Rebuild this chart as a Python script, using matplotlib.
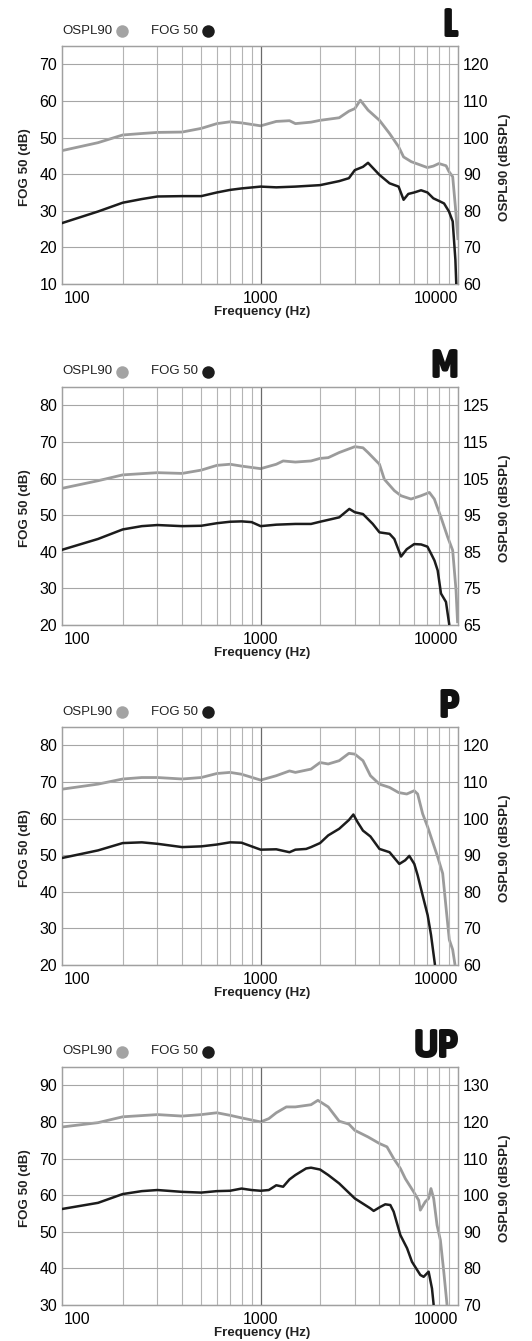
import os

import matplotlib

matplotlib.use("Agg")
import matplotlib.pyplot as plt
from matplotlib import font_manager
from matplotlib.font_manager import FontProperties
from matplotlib.ticker import FixedLocator, NullFormatter

plt.rcParams["font.family"] = ["Liberation Sans", "DejaVu Sans"]

W, H = 532, 1341

# ---- data (frequency in Hz, FOG 50 in dB, OSPL90 in dBSPL) ----
L_ospl_f = [98, 150, 200, 250, 300, 400, 500, 600, 700, 800, 1000, 1200, 1400, 1500,
            1800, 2000, 2500, 2800, 3000, 3200, 3500, 4000, 4500, 5000, 5300, 5800,
            7000, 7500, 8000, 8700, 9000, 9400, 9700, 10000]
L_ospl = [96.4, 98.6, 100.7, 101.1, 101.4, 101.5, 102.5, 103.8, 104.3, 104.0, 103.2,
          104.4, 104.6, 103.8, 104.2, 104.7, 105.4, 107.2, 107.9, 110.2, 107.5, 104.7,
          101.1, 97.5, 94.7, 93.4, 91.8, 92.2, 92.9, 92.3, 90.7, 89.3, 81.1, 72.0]
L_fog_f = [98, 150, 200, 250, 300, 400, 500, 600, 700, 800, 1000, 1200, 1500, 2000,
           2500, 2800, 3000, 3300, 3500, 4000, 4500, 5000, 5300, 5600, 6000, 6500,
           7000, 7500, 8000, 8500, 9000, 9400, 9700, 9800]
L_fog = [26.6, 29.8, 32.2, 33.2, 33.9, 34.0, 34.0, 35.0, 35.7, 36.1, 36.6, 36.4, 36.6,
         37.0, 38.1, 38.9, 41.1, 42.0, 43.1, 39.8, 37.5, 36.6, 33.0, 34.6, 35.0, 35.6,
         35.0, 33.4, 32.7, 32.0, 29.8, 27.1, 16.6, 10.0]

M_ospl_f = [98, 150, 200, 300, 400, 500, 600, 700, 800, 1000, 1200, 1300, 1500, 1800,
            2000, 2200, 2500, 3000, 3300, 3500, 4000, 4233, 4757, 5144, 5780, 6494,
            7160, 7586, 8199, 8866, 9397, 9772, 9953]
M_ospl = [102.3, 104.4, 106.0, 106.6, 106.4, 107.3, 108.6, 108.9, 108.4, 107.7, 108.9,
          109.8, 109.5, 109.8, 110.5, 110.7, 112.1, 113.7, 113.4, 112.1, 108.9, 104.8,
          101.7, 100.3, 99.4, 100.3, 101.2, 99.4, 94.4, 89.0, 85.4, 74.5, 65.5]
M_fog_f = [98, 150, 200, 250, 300, 400, 500, 600, 700, 800, 900, 1000, 1200, 1500,
           1800, 2000, 2500, 2814, 3000, 3300, 3700, 4000, 4500, 4757, 5144, 5500,
           6000, 6500, 7000, 7300, 7600, 7889, 8199, 8690, 9036]
M_fog = [40.5, 43.5, 46.1, 47.0, 47.3, 47.0, 47.1, 47.8, 48.2, 48.3, 48.1, 47.0, 47.4,
         47.6, 47.6, 48.2, 49.4, 51.7, 50.8, 50.3, 47.6, 45.3, 44.9, 43.5, 38.7, 40.7,
         42.1, 42.0, 41.4, 39.5, 37.6, 34.9, 28.6, 26.3, 20.0]

P_ospl_f = [98, 150, 200, 250, 300, 400, 500, 600, 700, 800, 1000, 1200, 1400, 1500,
            1800, 2000, 2200, 2500, 2800, 3000, 3300, 3600, 4000, 4500, 5000, 5500,
            6000, 6246, 6620, 7019, 7442, 7889, 8364, 8690, 9036, 9397, 9660]
P_ospl = [108.0, 109.4, 110.8, 111.2, 111.2, 110.8, 111.2, 112.3, 112.6, 112.1, 110.5,
          111.7, 113.0, 112.6, 113.5, 115.3, 114.9, 115.8, 117.8, 117.6, 115.8, 111.7,
          109.4, 108.5, 107.1, 106.7, 107.6, 106.7, 101.3, 97.7, 93.6, 89.5, 85.0, 75.9,
          66.9, 64.2, 60.0]
P_fog_f = [98, 150, 200, 250, 300, 400, 500, 600, 700, 800, 1000, 1200, 1400, 1500,
           1700, 1800, 2000, 2200, 2500, 2800, 2950, 3100, 3300, 3600, 4000, 4500, 5044,
           5400, 5666, 6006, 6246, 6620, 7019, 7300, 7645]
P_fog = [49.2, 51.3, 53.3, 53.5, 53.1, 52.2, 52.4, 52.9, 53.5, 53.4, 51.5, 51.6, 50.8,
         51.5, 51.7, 52.2, 53.3, 55.4, 57.2, 59.6, 61.1, 59.0, 56.7, 55.1, 51.7, 50.8,
         47.6, 48.6, 49.8, 47.6, 44.5, 39.0, 33.6, 28.2, 20.0]

UP_ospl_f = [98, 150, 200, 300, 400, 500, 600, 700, 800, 1000, 1100, 1200, 1350, 1500,
             1800, 1950, 2200, 2500, 2800, 3000, 3500, 4000, 4365, 4720, 5104, 5410,
             5960, 6320, 6443, 6827, 7098, 7295, 7529, 7831, 8144, 8470, 8800]
UP_ospl = [118.6, 119.8, 121.4, 122.0, 121.6, 122.0, 122.5, 121.8, 121.1, 120.0, 120.9,
           122.5, 124.1, 124.1, 124.7, 125.9, 124.1, 120.2, 119.4, 117.7, 115.9, 114.1,
           113.2, 110.0, 107.3, 104.5, 100.9, 98.6, 95.9, 98.2, 99.1, 101.8, 99.1, 91.8,
           87.7, 79.1, 70.0]
UP_fog_f = [98, 150, 200, 250, 300, 400, 500, 600, 700, 800, 900, 1000, 1100, 1200,
            1300, 1400, 1500, 1700, 1800, 2000, 2200, 2500, 3000, 3594, 3738, 4040,
            4281, 4540, 4720, 5104, 5520, 5845, 6443, 6698, 7098, 7382, 7529]
UP_fog = [56.2, 57.9, 60.3, 61.1, 61.4, 60.9, 60.7, 61.1, 61.2, 61.8, 61.4, 61.2, 61.4,
          62.7, 62.3, 64.3, 65.5, 67.3, 67.5, 67.0, 65.5, 63.2, 59.1, 56.4, 55.7, 56.8,
          57.5, 57.3, 55.5, 49.1, 45.5, 41.8, 38.2, 37.7, 39.1, 34.5, 30.0]

panels = [
    ("L", L_ospl_f, L_ospl, L_fog_f, L_fog, (10, 75), 50),
    ("M", M_ospl_f, M_ospl, M_fog_f, M_fog, (20, 85), 45),
    ("P", P_ospl_f, P_ospl, P_fog_f, P_fog, (20, 85), 40),
    ("UP", UP_ospl_f, UP_ospl, UP_fog_f, UP_fog, (30, 95), 40),
]

GRAY = "#9b9b9b"
BLACK = "#1c1c1c"

WEIGHTS = {"normal": 400, "regular": 400, "medium": 500, "semibold": 600,
           "demibold": 600, "bold": 700, "extra bold": 800, "heavy": 900, "black": 900}


def badge_props():
    # heaviest condensed/narrow face that happens to be installed, else DejaVu bold
    best, best_w = None, 0
    for f in font_manager.fontManager.ttflist:
        base = os.path.basename(f.fname).lower()
        if not ("condensed" in base or "narrow" in base):
            continue
        if "semicondensed" in base or "extracondensed" in base or "italic" in base:
            continue
        w = f.weight if isinstance(f.weight, int) else WEIGHTS.get(str(f.weight).lower(), 400)
        if w >= 700 and w > best_w:
            best, best_w = f.fname, w
    if best:
        return FontProperties(fname=best)
    return FontProperties(family="DejaVu Sans", weight="bold", stretch="condensed")


badge_fp = badge_props()

fig = plt.figure(figsize=(W / 100, H / 100), dpi=100)

tops = [46, 387, 727, 1067]
ax_left, ax_w, ax_h = 62, 396, 238

minor_f = [m * 10 ** e for e in (2, 3) for m in range(2, 10)]

for (badge, of, ov, ff, fv, ylim, offset), top in zip(panels, tops):
    ax = fig.add_axes([ax_left / W, 1 - (top + ax_h) / H, ax_w / W, ax_h / H])
    ax.set_xscale("log")
    ax.set_xlim(98.5, 10000)
    ax.set_ylim(*ylim)
    ax2 = ax.twinx()
    ax2.set_ylim(ylim[0] + offset, ylim[1] + offset)

    # grid
    ax.xaxis.set_major_locator(FixedLocator([100, 1000, 10000]))
    ax.xaxis.set_minor_locator(FixedLocator(minor_f))
    ax.xaxis.set_minor_formatter(NullFormatter())
    ax.grid(which="minor", axis="x", color="#b4b4b4", lw=0.8)
    ax.axvline(1000, color="#6a6a6a", lw=0.9, zorder=1)
    yt = list(range(ylim[0], ylim[1], 10))
    ax.set_yticks(yt)
    ax.grid(which="major", axis="y", color="#a6a6a6", lw=0.8)
    ax2.set_yticks([v + offset for v in yt])

    ax.set_xticks([100, 1000, 10000])
    ax.set_xticklabels(["100", "1000", "10000"])
    xl = ax.get_xticklabels()
    xl[0].set_ha("left")
    xl[2].set_ha("right")

    for a in (ax, ax2):
        a.tick_params(which="both", length=0, labelsize=11.5, pad=3.5)
        for s in a.spines.values():
            s.set_color("#a0a0a0")
            s.set_linewidth(0.9)
    ax.tick_params(axis="x", pad=5)

    ax2.plot(of, ov, color=GRAY, lw=2.0, solid_capstyle="butt", zorder=3)
    ax.plot(ff, fv, color=BLACK, lw=1.8, solid_capstyle="butt", zorder=4)
    ax.set_zorder(ax2.get_zorder() + 1)
    ax.patch.set_visible(False)

    ax.set_xlabel("Frequency (Hz)", fontsize=9.6, fontweight="bold", color="#222")
    ax.xaxis.set_label_coords(0.505, -0.094)
    ax.set_ylabel("FOG 50 (dB)", fontsize=9.6, fontweight="bold", color="#222")
    ax.yaxis.set_label_coords(-0.079, 0.49)
    ax2.set_ylabel("OSPL90 (dBSPL)", fontsize=9.6, fontweight="bold", color="#222")
    ax2.yaxis.set_label_coords(1.104, 0.49)

    # legend row above the frame
    ly = 1 + 15.5 / ax_h
    ax.text(0.0, ly, "OSPL90", transform=ax.transAxes, fontsize=9.5,
            va="center", ha="left", color="#222")
    ax.plot([0.152], [ly], "o", transform=ax.transAxes, clip_on=False,
            ms=9, color="#a3a3a3", mec="none")
    ax.text(0.225, ly, "FOG 50", transform=ax.transAxes, fontsize=9.5,
            va="center", ha="left", color="#222")
    ax.plot([0.369], [ly], "o", transform=ax.transAxes, clip_on=False,
            ms=9, color=BLACK, mec="none")

    fig.text((ax_left + ax_w + 1) / W, 1 - (top - 9) / H, badge, ha="right",
             va="baseline", fontproperties=badge_fp, fontsize=30, color="#111")

fig.savefig("out.png", dpi=100)
